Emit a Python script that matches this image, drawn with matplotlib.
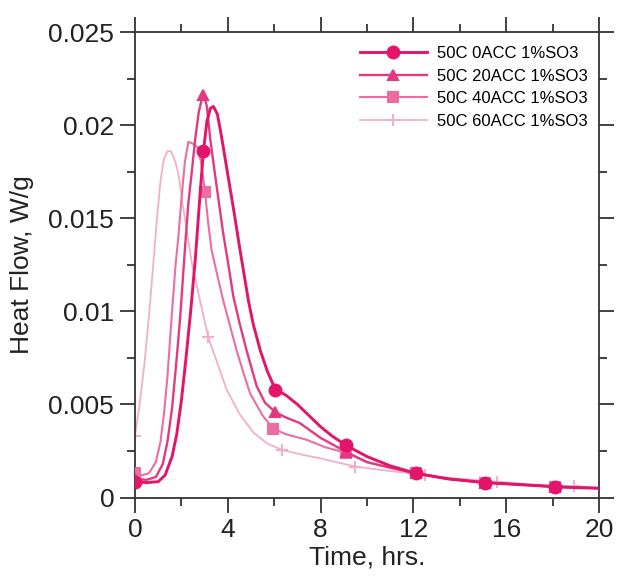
import matplotlib
matplotlib.use("Agg")
import matplotlib.pyplot as plt
from matplotlib.ticker import MultipleLocator, FuncFormatter

plt.rcParams['font.family'] = ['Liberation Sans', 'DejaVu Sans']

# series (time in hrs, heat flow in W/g)
labels = ["50C 0ACC 1%SO3", "50C 20ACC 1%SO3", "50C 40ACC 1%SO3", "50C 60ACC 1%SO3"]

t_0acc = [0, 0.5, 1.0, 1.3, 1.6, 1.8, 2.0, 2.2, 2.4, 2.6, 2.8, 2.95, 3.1, 3.25, 3.38, 3.55,
          3.7, 3.9, 4.1, 4.3, 4.5, 4.7, 4.9, 5.1, 5.4, 5.7, 6.05, 6.5, 7.0, 7.5, 8.0, 8.5,
          9.1, 10, 11, 12.1, 13.5, 15.1, 16.5, 18.1, 19, 20]
v_0acc = [0.00085, 0.0008, 0.00085, 0.0012, 0.0022, 0.0034, 0.0052, 0.0075, 0.0100, 0.0128,
          0.0162, 0.0186, 0.0202, 0.0209, 0.0210, 0.0206, 0.0196, 0.0181, 0.0166, 0.0151,
          0.0135, 0.0120, 0.0105, 0.0093, 0.0079, 0.0068, 0.0058, 0.0055, 0.0050, 0.0044,
          0.0038, 0.0033, 0.0028, 0.0022, 0.0017, 0.0013, 0.0010, 0.0008, 0.0007, 0.00058,
          0.00053, 0.0005]

t_20acc = [0, 0.5, 0.9, 1.2, 1.4, 1.6, 1.8, 1.95, 2.15, 2.3, 2.45, 2.6, 2.75, 2.9, 2.98, 3.1,
           3.25, 3.4, 3.6, 3.8, 4.0, 4.24, 4.5, 4.81, 5.24, 5.6, 6.03, 6.5, 7.1, 8.0, 9.1, 10,
           11, 12.1, 13.5, 15.1, 16.5, 18.1, 20]
v_20acc = [0.001, 0.00095, 0.0011, 0.0018, 0.0030, 0.0048, 0.0075, 0.0097, 0.0133, 0.0158,
           0.0175, 0.0193, 0.0207, 0.0215, 0.0216, 0.0210, 0.0192, 0.0178, 0.0160, 0.0142,
           0.0127, 0.0108, 0.0094, 0.0079, 0.0060, 0.0051, 0.0046, 0.0043, 0.0040, 0.0032,
           0.00245, 0.0019, 0.0016, 0.0013, 0.0010, 0.0008, 0.0007, 0.00058, 0.0005]

t_40acc = [0, 0.3, 0.6, 0.9, 1.1, 1.25, 1.4, 1.58, 1.75, 1.87, 2.0, 2.15, 2.3, 2.5, 2.7, 2.85,
           3.02, 3.15, 3.3, 3.5, 3.8, 4.1, 4.38, 4.7, 4.96, 5.5, 5.96, 6.5, 7.4, 8.2, 9.1, 10,
           11, 12.1, 13.5, 15.1, 16.5, 18.1, 20]
v_40acc = [0.0013, 0.0012, 0.0013, 0.0019, 0.0030, 0.0045, 0.0065, 0.0097, 0.0125, 0.0140,
           0.0160, 0.0180, 0.0191, 0.0190, 0.0188, 0.0180, 0.0164, 0.0148, 0.0133, 0.0122,
           0.0106, 0.0092, 0.0079, 0.0066, 0.0056, 0.0044, 0.0037, 0.0034, 0.0031, 0.0027,
           0.0024, 0.0019, 0.0016, 0.0013, 0.0010, 0.0008, 0.0007, 0.00058, 0.0005]

t_60acc = [0, 0.2, 0.4, 0.6, 0.8, 0.95, 1.1, 1.25, 1.4, 1.55, 1.75, 1.9, 2.05, 2.2, 2.45,
           2.8, 3.16, 3.5, 3.95, 4.5, 5.1, 5.7, 6.35, 7.2, 8.0, 9.5, 10.5, 12.5, 14, 15.6,
           17, 18.9, 20]
v_60acc = [0.0033, 0.0050, 0.0071, 0.0097, 0.0127, 0.0150, 0.0170, 0.0182, 0.0186, 0.0186,
           0.0180, 0.0172, 0.0158, 0.0146, 0.0126, 0.0106, 0.0086, 0.0074, 0.0058, 0.0045,
           0.0035, 0.0029, 0.00255, 0.0023, 0.0021, 0.00166, 0.0015, 0.0012, 0.0010, 0.00085,
           0.0007, 0.0006, 0.0005]

# marker points on each curve
mt_0acc = [0, 2.95, 6.05, 9.1, 12.1, 15.1, 18.1]
mv_0acc = [0.00085, 0.0186, 0.0058, 0.0028, 0.0013, 0.0008, 0.00058]
mt_20acc = [0, 2.95, 6.03, 9.1, 12.1, 15.1, 18.1]
mv_20acc = [0.001, 0.0216, 0.0046, 0.00245, 0.0013, 0.0008, 0.00058]
mt_40acc = [0, 3.02, 5.96, 9.1, 12.1, 15.1, 18.1]
mv_40acc = [0.0013, 0.0164, 0.0037, 0.0024, 0.0013, 0.0008, 0.00058]
mt_60acc = [0, 3.16, 6.35, 9.5, 12.5, 15.6, 18.9]
mv_60acc = [0.0033, 0.0086, 0.00255, 0.00166, 0.0012, 0.00085, 0.0006]

series = [
    (t_0acc, v_0acc, mt_0acc, mv_0acc, '#e3146a', 'o', 8.5, 2.1),
    (t_20acc, v_20acc, mt_20acc, mv_20acc, '#e23a80', '^', 7, 1.7),
    (t_40acc, v_40acc, mt_40acc, mv_40acc, '#ea6ea3', 's', 7, 1.5),
    (t_60acc, v_60acc, mt_60acc, mv_60acc, '#f2afcb', '+', 9, 1.3),
]

fig = plt.figure(figsize=(6.18, 5.81), dpi=100)
ax = fig.add_axes([0.2184, 0.1437, 0.7509, 0.8012])

for i, (t, v, mt, mv, col, mk, ms, lw) in enumerate(series):
    ax.plot(t, v, color=col, lw=lw, zorder=5 - i)
    ax.plot(mt, mv, ls='none', marker=mk, color=col, ms=ms, mew=1.5, zorder=5 - i)
    # legend proxy
    ax.plot([], [], color=col, lw=lw, marker=mk, ms=ms, mew=1.5, label=labels[i])

ax.set_xlim(0, 20)
ax.set_ylim(0, 0.025)
ax.xaxis.set_major_locator(MultipleLocator(4))
ax.xaxis.set_minor_locator(MultipleLocator(2))
ax.yaxis.set_major_locator(MultipleLocator(0.005))
ax.yaxis.set_minor_locator(MultipleLocator(0.0025))
ax.yaxis.set_major_formatter(FuncFormatter(lambda y, p: '%g' % round(y, 4)))

ax.tick_params(which='both', direction='out', top=True, right=True, color='#333333',
               width=1.3, labelsize=19, labelcolor='#222222')
ax.tick_params(which='major', length=11, pad=4)
ax.tick_params(which='minor', length=5.5)
for s in ax.spines.values():
    s.set_linewidth(1.3)
    s.set_color('#333333')

ax.set_xlabel("Time, hrs.", fontsize=19, color='#222222', labelpad=2)
ax.set_ylabel("Heat Flow, W/g", fontsize=19, color='#222222', labelpad=10)

ax.legend(loc='upper right', bbox_to_anchor=(1.0, 0.995), frameon=False, fontsize=12,
          handlelength=4.0, labelspacing=0.45, handletextpad=0.6, borderaxespad=0.3)

fig.savefig("out.png", dpi=100)
